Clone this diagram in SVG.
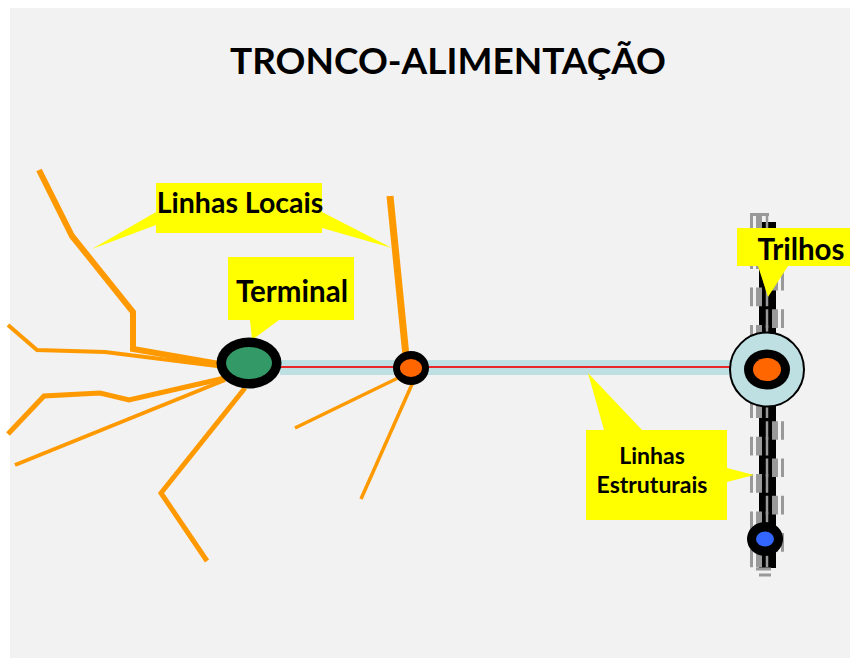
<svg xmlns="http://www.w3.org/2000/svg" width="850" height="658" viewBox="0 0 850 658">
<style>
text{font-family:"Lato","Liberation Sans",sans-serif;font-weight:700;fill:#000;text-anchor:middle}
.o{fill:none;stroke:#f90;stroke-linejoin:miter;stroke-linecap:butt}
.y{fill:#ff0}
.l{stroke:#999;fill:none;stroke-dasharray:18.6 18.7}
.k{fill:#000}
</style>
<rect width="850" height="658" fill="#fff"/>
<rect x="10" y="8" width="840" height="650" fill="#f2f2f2"/>
<text x="448" y="74" font-size="37">TRONCO-ALIMENTAÇÃO</text>
<g id="connectors">
<path class="o" stroke-width="6" d="M39 170L72 236L133 312V349L225 365"/>
<path class="o" stroke-width="4" d="M8 325L37 350L105 352L225 367"/>
<path class="o" stroke-width="5" d="M8 434L44 396L100 393L129 400L225 378"/>
<path class="o" stroke-width="4" d="M15 465L225 380"/>
<path class="o" stroke-width="5" d="M245 388L161 493L207 561"/>
<path class="o" stroke-width="7" d="M390 196L406 356"/>
<path class="o" stroke-width="3.500" d="M295 428L400 377"/>
<path class="o" stroke-width="3.500" d="M361 499L413 382"/>
</g>
<g id="trunk">
<rect x="280" y="360" width="452" height="15" fill="#bfe0e3"/>
<path d="M280 367H732" stroke="#e8262c" stroke-width="2"/>
</g>
<g id="trilhos-rail">
<rect x="759" y="222" width="17" height="346" class="k"/>
<path class="l" stroke-width="3" d="M751.500 213V568"/>
<path class="l" stroke-width="6" d="M759 213V568"/>
<path class="l" stroke-width="2.500" d="M767 213V568"/>
<path class="l" stroke-width="2.500" d="M767 234.700V568"/>
<path class="l" stroke-width="6" d="M775 234.700V568"/>
<path class="l" stroke-width="3" d="M782.500 234.700V568"/>
<path d="M750 214.500H769M756 221H762M756 569H771M759 575H771" stroke="#999" stroke-width="3" fill="none"/>
</g>
<g id="callout-linhas-locais">
<path class="y" d="M156 183H322V212L392 248L322 228V233H156V225L92 249L156 212Z"/>
<text x="240" y="212.500" font-size="28.500">Linhas Locais</text>
</g>
<g id="callout-terminal">
<path class="y" d="M228 257H354V320H279L252 340L250 320H228Z"/>
<text x="292" y="302" font-size="29.500">Terminal</text>
</g>
<g id="callout-trilhos">
<path class="y" d="M737 228H850V266H788L768 297L758 266H737Z"/>
<text x="801" y="260" font-size="29.500">Trilhos</text>
</g>
<g id="callout-linhas-estruturais">
<path class="y" d="M586 430H604L588 373L642 430H727V468L754 475L727 482V520H586Z"/>
<text x="652" y="464" font-size="23">Linhas</text>
<text x="652" y="493" font-size="23">Estruturais</text>
</g>
<g id="terminal">
<ellipse cx="249" cy="363" rx="32.500" ry="25.500" class="k"/>
<ellipse cx="249" cy="363" rx="23" ry="16" fill="#396"/>
</g>
<g id="station-mid">
<ellipse cx="411" cy="368" rx="18" ry="17" class="k"/>
<ellipse cx="411" cy="368" rx="11" ry="9" fill="#f60"/>
</g>
<g id="station-trilhos">
<circle cx="767" cy="369.500" r="37" fill="#bfe0e3" stroke="#000" stroke-width="2"/>
<ellipse cx="767" cy="369.500" rx="23" ry="20" class="k"/>
<ellipse cx="767" cy="369.500" rx="14" ry="11.500" fill="#f60"/>
</g>
<g id="station-blue">
<ellipse cx="765" cy="539" rx="18" ry="17" class="k"/>
<ellipse cx="765" cy="539" rx="9" ry="7.500" fill="#36f"/>
</g>
</svg>
